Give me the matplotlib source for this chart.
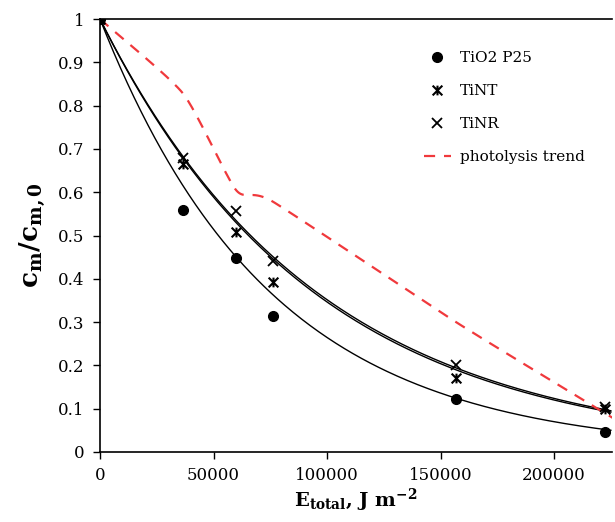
import numpy as np
import matplotlib
matplotlib.use("Agg")
import matplotlib.pyplot as plt
from matplotlib.path import Path

plt.rcParams['font.family'] = ['DejaVu Serif']
plt.rcParams['mathtext.fontset'] = 'dejavuserif'

# ---- data ----
energy = [0, 36560, 59910, 76200, 156800, 222500]
p25 = [1.0, 0.560, 0.447, 0.313, 0.122, 0.047]
tint = [1.0, 0.665, 0.509, 0.392, 0.170, 0.100]
tinr = [1.0, 0.680, 0.557, 0.440, 0.200, 0.105]
photo_x = [0, 36560, 59910, 76200, 156800, 227000]
photo_y = [1.0, 0.828, 0.605, 0.578, 0.300, 0.075]
# exponential trendline rate constants (c = exp(-k E))
k_p25 = 1.33e-5
k_tint = 1.045e-5
k_tinr = 1.06e-5

xticks = [0, 50000, 100000, 150000, 200000]
yticks = [0, 0.1, 0.2, 0.3, 0.4, 0.5, 0.6, 0.7, 0.8, 0.9, 1]


def catmull_rom(xs, ys, n=40):
    xs = np.asarray(xs, float); ys = np.asarray(ys, float)
    P = np.column_stack([xs, ys])
    P = np.vstack([P[0] - (P[1] - P[0]), P, P[-1] + (P[-1] - P[-2])])
    out = []
    t = np.linspace(0, 1, n)[:, None]
    for i in range(1, len(P) - 2):
        p0, p1, p2, p3 = P[i - 1], P[i], P[i + 1], P[i + 2]
        m1 = (p2 - p0) / 2 * 0.6
        m2 = (p3 - p1) / 2 * 0.6
        h00 = 2 * t**3 - 3 * t**2 + 1
        h10 = t**3 - 2 * t**2 + t
        h01 = -2 * t**3 + 3 * t**2
        h11 = t**3 - t**2
        out.append(h00 * p1 + h10 * m1 + h01 * p2 + h11 * m2)
    c = np.vstack(out)
    return c[:, 0], c[:, 1]


star = Path([(-1, -1), (1, 1), (-1, 1), (1, -1), (0, 1), (0, -1)],
            [Path.MOVETO, Path.LINETO, Path.MOVETO, Path.LINETO, Path.MOVETO, Path.LINETO])

fig = plt.figure(figsize=(6.15, 5.22), dpi=100)
ax = fig.add_axes([100 / 615, 70 / 522, 512 / 615, 433 / 522])

xf = np.linspace(0, 225000, 300)
ax.plot(xf, np.exp(-k_p25 * xf), color='black', lw=1.0)
ax.plot(xf, np.exp(-k_tint * xf), color='black', lw=1.0)
ax.plot(xf, np.exp(-k_tinr * xf), color='black', lw=1.0)

ax.plot(energy, p25, 'o', color='black', ms=7, label='TiO2 P25', zorder=5)
ax.plot(energy, tint, linestyle='none', marker=star, color='black', ms=7, mew=1.5,
        label='TiNT', zorder=5)
ax.plot(energy, tinr, 'x', color='black', ms=7, mew=1.3, label='TiNR', zorder=5)

sx, sy = catmull_rom(photo_x, photo_y)
ax.plot(sx, sy, color='#F0393C', lw=1.6, dashes=(5, 4), label='photolysis trend')

ax.set_xlim(0, 225500)
ax.set_ylim(0, 1)
ax.set_xticks(xticks)
ax.set_xticklabels([str(v) for v in xticks])
ax.set_yticks(yticks)
ax.set_yticklabels(['0', '0.1', '0.2', '0.3', '0.4', '0.5', '0.6', '0.7', '0.8', '0.9', '1'])
ax.tick_params(direction='out', length=5, width=1, labelsize=12, pad=6)
ax.spines['right'].set_visible(False)
for s in ['left', 'bottom', 'top']:
    ax.spines[s].set_linewidth(1.2)

ax.set_xlabel(r'$\mathbf{E_{total}}$, J m$^{\mathbf{-2}}$', fontsize=14, fontweight='bold', labelpad=2)
ax.set_ylabel(r'$\mathbf{c_m/c_{m,0}}$', fontsize=19, fontweight='bold', labelpad=8)

ax.legend(loc='upper left', bbox_to_anchor=(0.62, 0.94), frameon=False, fontsize=11,
          handlelength=1.8, handletextpad=0.6, labelspacing=1.25, borderaxespad=0.0)

fig.savefig('out.png', dpi=100)
